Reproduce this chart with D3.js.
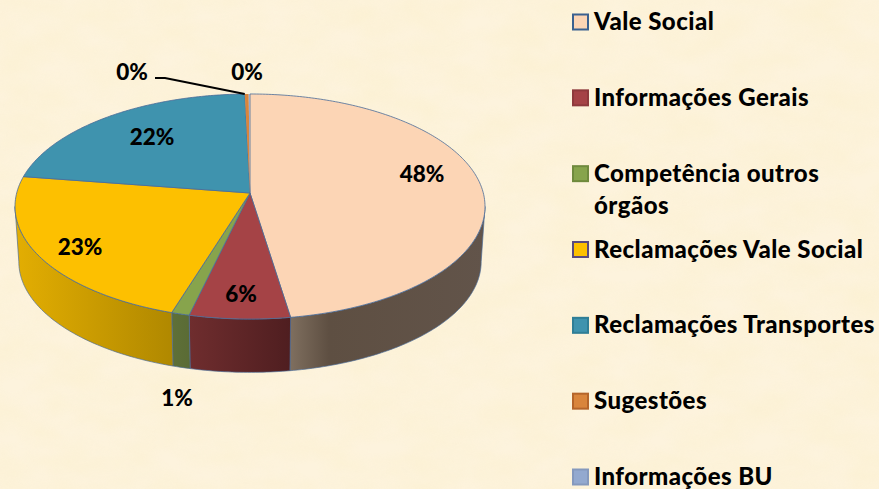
<!DOCTYPE html>
<html><head><meta charset="utf-8">
<script src="https://cdn.jsdelivr.net/npm/d3@7"></script>
<style>html,body{margin:0;padding:0;background:#fcf1dc}svg{display:block}text{font-family:Lato,"Open Sans",sans-serif;font-weight:900;fill:#000}</style>
</head><body><svg id="c" width="879" height="489"></svg>
<script>
const categories = ["Vale Social","Informações Gerais","Competência outros órgãos","Reclamações Vale Social","Reclamações Transportes","Sugestões","Informações BU"];
const values = [47.55,6.15,1.1,22.6,22.2,0.3,0.1];
const valueLabels = ["48%","6%","1%","23%","22%","0%","0%"];
const topColors = ["#fcd5b5","#a54346","#87a44c","#fdc000","#3f93ae","#d9853c","#93a9cf"];
const wallLeft = ["#7f6f5f","#6f2d2e","#5f7038","#e3ae02","#2f6f84","#a8662c","#70819e"];
const wallRight = ["#5e4f42","#4f1e20","#5a6b35","#b08800","#2a6376","#945a28","#64748f"];
const legendBorders = ["#3b6190","#8e3a3c","#6f8a3d","#5a4a80","#2f7e96","#b5652a","#8599bd"];

const svg = d3.select("#c");
const defs = svg.append("defs");
const f = defs.append("filter").attr("id","paper").attr("x",0).attr("y",0).attr("width","100%").attr("height","100%");
f.append("feTurbulence").attr("type","fractalNoise").attr("baseFrequency","0.02 0.035").attr("numOctaves",3).attr("seed",7);
f.append("feColorMatrix").attr("values","0 0 0 0 0.96  0 0 0 0 0.86  0 0 0 0 0.58  0.9 0 0 0 -0.2");
svg.append("rect").attr("width",879).attr("height",489).attr("fill","#fdf3dd");
svg.append("rect").attr("width",879).attr("height",489).attr("filter","url(#paper)").attr("opacity",.7);

// perspective projection of the pie disc
const k = 0.12;
const sx = d3.scaleLinear().domain([-1,1]).range([250-233.3,250+233.3]);
const sy = d3.scaleLinear().domain([-1,1]).range([193-110.9,193+110.9]);
const sxB = d3.scaleLinear().domain([-1,1]).range([250-229.5,250+229.5]);
const syB = d3.scaleLinear().domain([-1,1]).range([248.5-109,248.5+109]);
function proj(a,r,X,Y){
  const u=r*Math.sin(a), v=-r*Math.cos(a), w=1-k*v;
  return [X(u/w),Y(v/w)];
}
const arcAngles=(a0,a1)=>{const n=Math.max(2,Math.ceil((a1-a0)/0.015));return d3.range(n+1).map(i=>a0+(a1-a0)*i/n);};
const line=d3.line();
const pieGen=d3.pie().sort(null).value(d=>d);
const arcs=pieGen(values);
const visFrom=Math.PI-Math.acos(k), visTo=Math.PI+Math.acos(k);
const edge="#4a6c98";

// walls
arcs.forEach((d,i)=>{
  const a0=Math.max(d.startAngle,visFrom), a1=Math.min(d.endAngle,visTo);
  if(a1<=a0) return;
  const as=arcAngles(a0,a1);
  const top=as.map(a=>proj(a,1,sx,sy)), bot=as.map(a=>proj(a,1,sxB,syB)).reverse();
  const xs=top.concat(bot).map(p=>p[0]);
  const g=defs.append("linearGradient").attr("id","w"+i).attr("gradientUnits","userSpaceOnUse")
    .attr("x1",d3.min(xs)).attr("x2",d3.max(xs)).attr("y1",0).attr("y2",0);
  if(i===0){
    g.append("stop").attr("offset",0).attr("stop-color",wallLeft[i]);
    g.append("stop").attr("offset",.2).attr("stop-color",wallRight[i]);
    g.append("stop").attr("offset",1).attr("stop-color","#62544a");
  } else {
    g.append("stop").attr("offset",0).attr("stop-color",wallLeft[i]);
    g.append("stop").attr("offset",1).attr("stop-color",wallRight[i]);
  }
  svg.append("path").attr("d",line(top.concat(bot))+"Z").attr("fill",`url(#w${i})`)
    .attr("stroke",edge).attr("stroke-width",.9).attr("stroke-opacity",.75);
});
// top faces (the two hair-thin slices get no outline, as it would hide them)
arcs.forEach((d,i)=>{
  const pts=[[sx(0),sy(0)]].concat(arcAngles(d.startAngle,d.endAngle).map(a=>proj(a,1,sx,sy)));
  svg.append("path").attr("d",line(pts)+"Z").attr("fill",topColors[i])
    .attr("stroke",i>=5?"none":edge).attr("stroke-width",1).attr("stroke-opacity",.8).attr("stroke-linejoin","round");
});
// leader
const o=arcs[5], tip=proj((o.startAngle+o.endAngle)/2,1,sx,sy);
svg.append("path").attr("d",line([[155,78],[165,78],[tip[0]-2,tip[1]]])).attr("fill","none").attr("stroke","#000").attr("stroke-width",1.8);

// data labels
const labelPos=[[422,174],[241,294],[177,398],[80,247],[152,137],[132,72],[247,72]];
svg.selectAll("text.v").data(valueLabels).join("text").attr("class","v")
  .attr("x",(d,i)=>labelPos[i][0]).attr("y",(d,i)=>labelPos[i][1]+8)
  .attr("text-anchor","middle").attr("font-size",22.5).text(d=>d);

// legend
const legendY=d3.scalePoint().domain(categories).range([22,477]);
const g=svg.selectAll("g.l").data(categories).join("g").attr("class","l")
  .attr("transform",d=>`translate(572,${legendY(d)})`);
g.append("rect").attr("x",1).attr("y",-7.5).attr("width",15).attr("height",15)
  .attr("fill",(d,i)=>topColors[i]).attr("stroke",(d,i)=>legendBorders[i]).attr("stroke-width",2);
g.append("text").attr("x",22).attr("y",8).attr("font-size",24).attr("letter-spacing",.45).each(function(d){
  const t=d3.select(this), parts=d==="Competência outros órgãos"?["Competência outros","órgãos"]:[d];
  parts.forEach((p,j)=>t.append("tspan").attr("x",22).attr("dy",j?32:0).text(p));
});
</script></body></html>
